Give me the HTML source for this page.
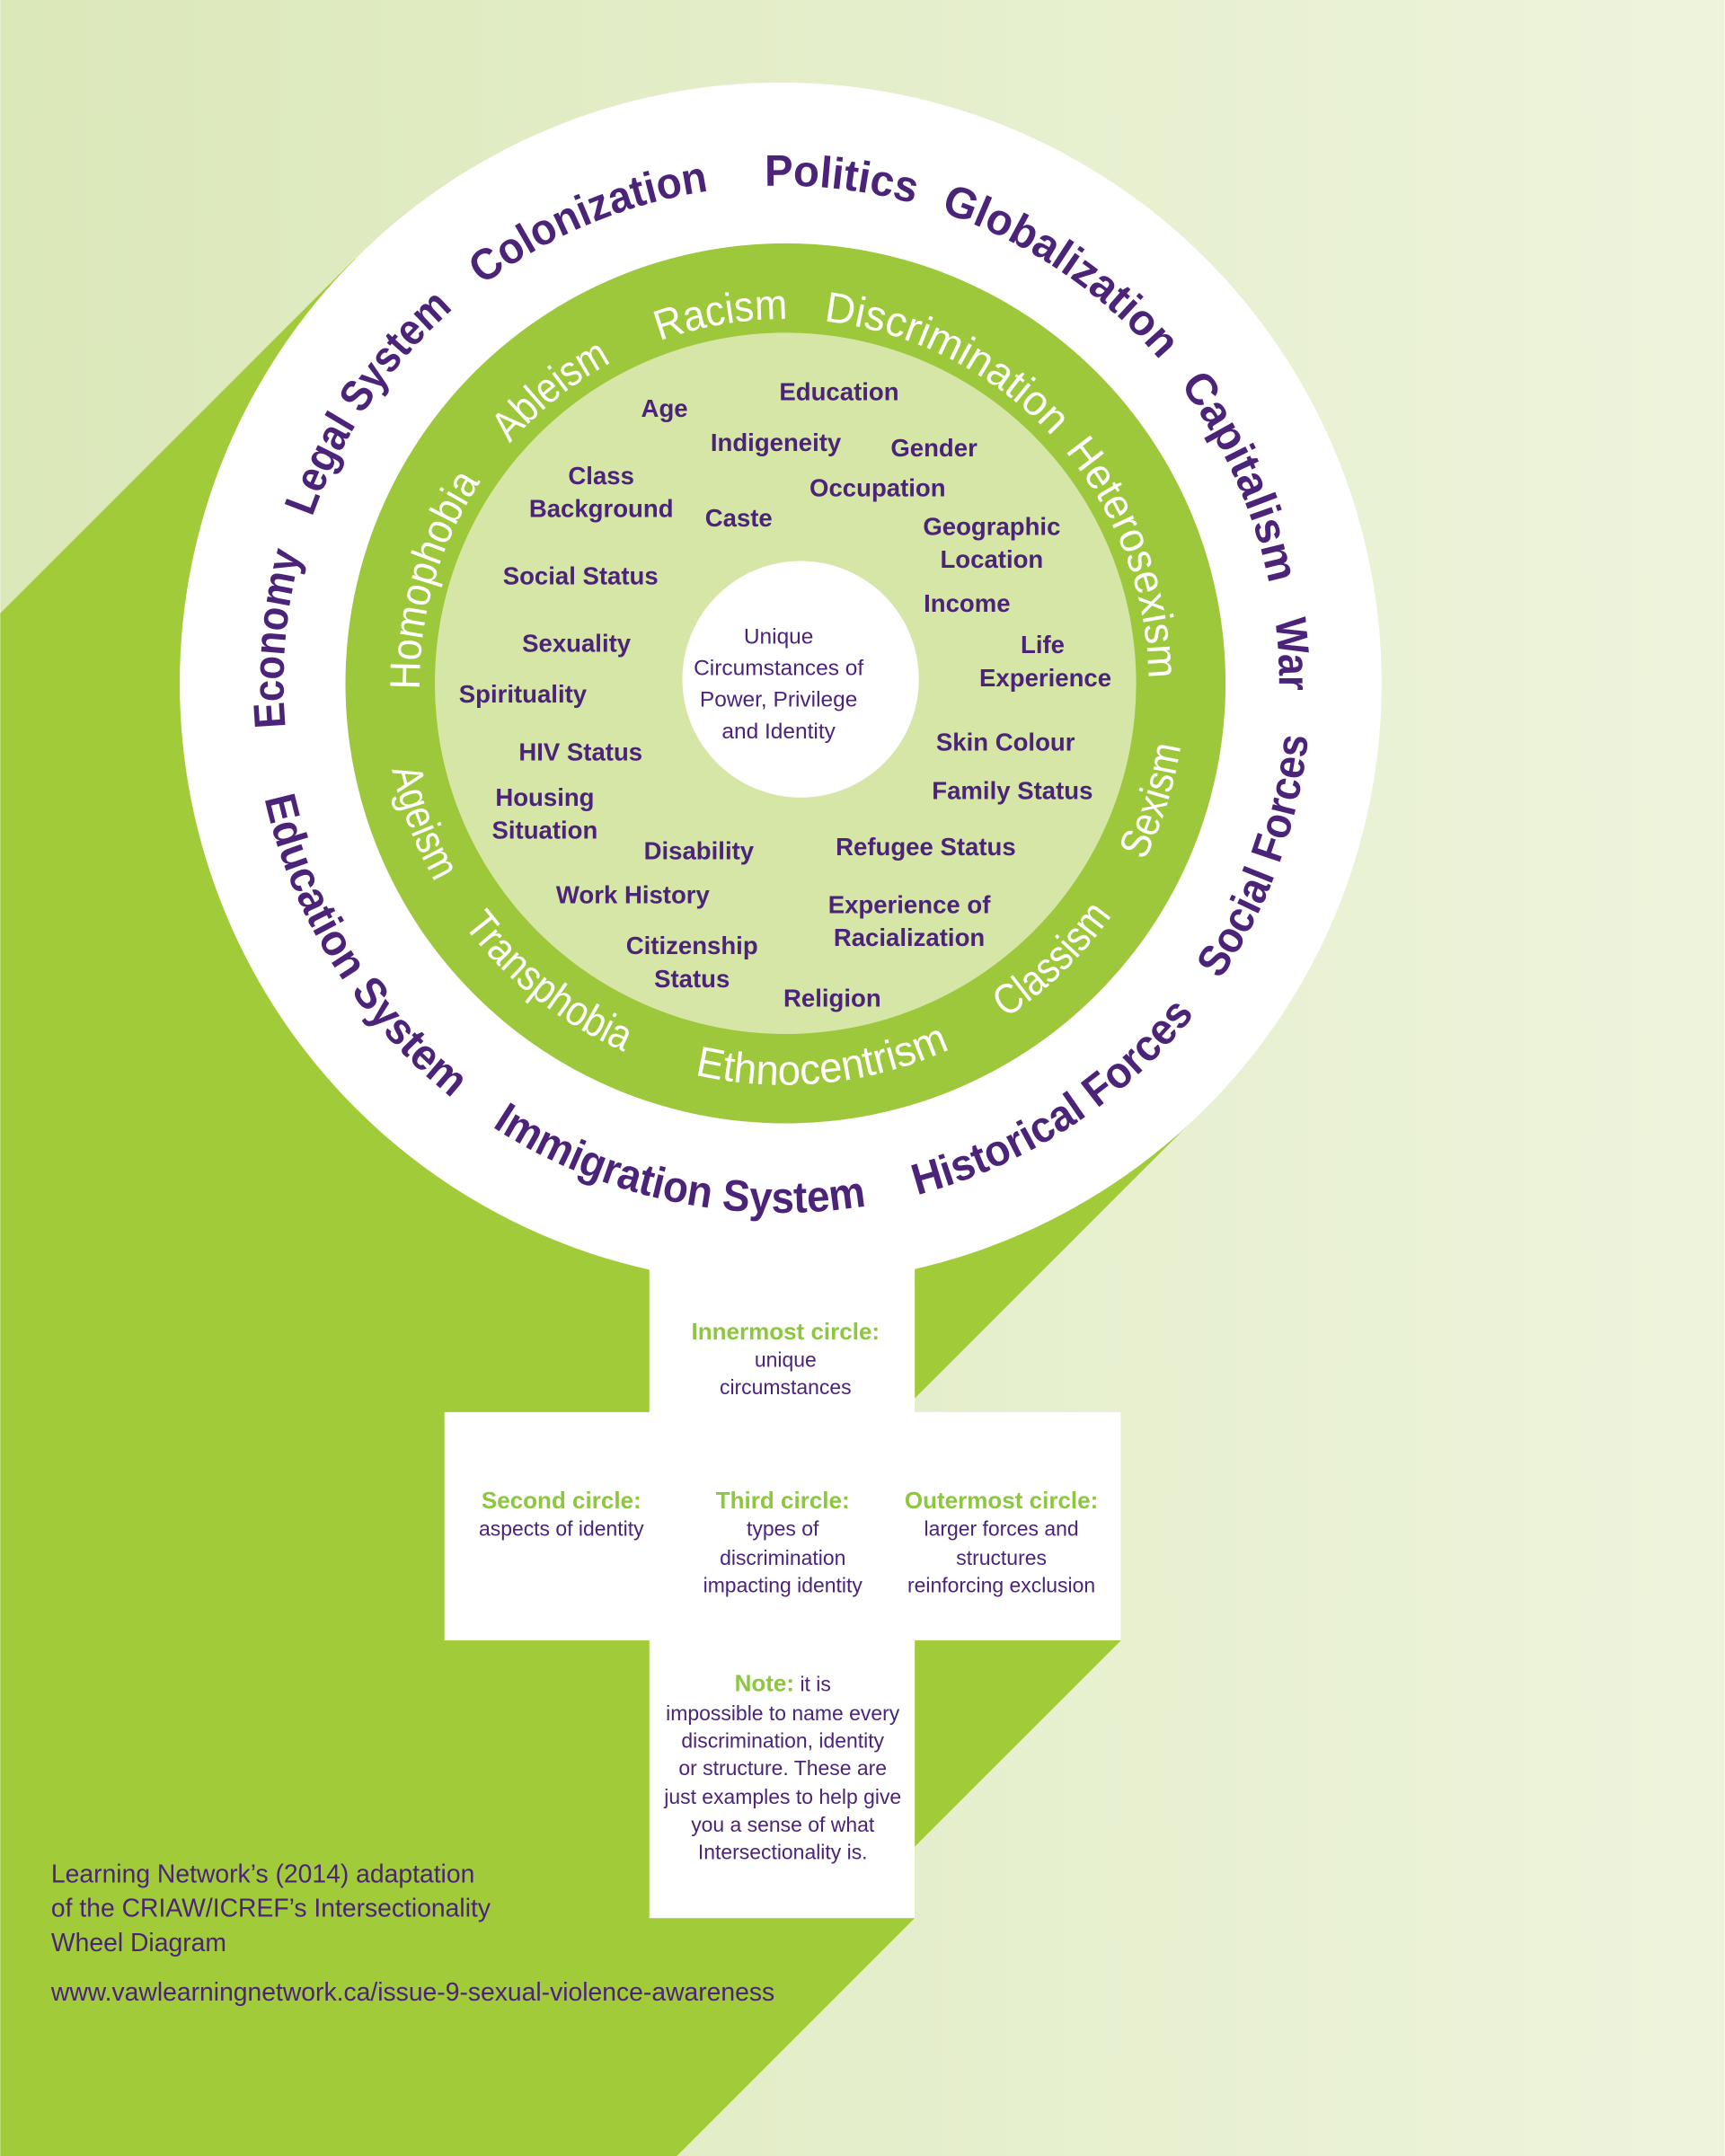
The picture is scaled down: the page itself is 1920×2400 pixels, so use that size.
<!DOCTYPE html>
<html><head><meta charset="utf-8"><style>
html,body{margin:0;padding:0;width:1920px;height:2400px;overflow:hidden}
svg{display:block}
.o{font-family:"Liberation Sans",sans-serif;font-weight:bold;font-size:32px;fill:#4b2479}
.m{font-family:"Liberation Sans",sans-serif;font-size:31px;fill:#fff}
.i{font-family:"Liberation Sans",sans-serif;font-weight:bold;font-size:18px;fill:#4b2479;text-anchor:middle}
.c{font-family:"Liberation Sans",sans-serif;font-size:16px;fill:#4b2479;text-anchor:middle}
.g{font-family:"Liberation Sans",sans-serif;font-weight:bold;font-size:17px;fill:#8dc63f}
.b{font-family:"Liberation Sans",sans-serif;font-size:18.5px;fill:#4b2479}
</style></head><body>
<svg width="1920" height="2400" viewBox="0 0 1254 1568" xmlns="http://www.w3.org/2000/svg">
<defs>
<linearGradient id="bg" x1="0" y1="0" x2="1" y2="0">
<stop offset="0" stop-color="#dbe8b9"/><stop offset="1" stop-color="#eef4dc"/></linearGradient>
<path id="ocw" d="M568,859 A362,362 0 1 1 568,135 A362,362 0 1 1 568,859"/>
<path id="occw" d="M568,112 A385,385 0 1 0 568,882 A385,385 0 1 0 568,112"/>
<path id="mcw" d="M570,762 A265,265 0 1 1 570,232 A265,265 0 1 1 570,762"/>
<path id="mccw" d="M570,205 A292,292 0 1 0 570,789 A292,292 0 1 0 570,205"/>
</defs>
<rect width="1254" height="1568" fill="url(#bg)"/>
<polygon fill="#a2cb3a" points="0,446 258,188 876,806 655,1027 815,1027 815,1193 665,1343 665,1395 492,1568 0,1568"/>
<circle cx="567.5" cy="497" r="437" fill="#fff"/>
<rect x="472" y="880" width="193" height="515" fill="#fff"/>
<rect x="323" y="1027" width="492" height="166" fill="#fff"/>
<circle cx="571" cy="497" r="320" fill="#9dc83b"/>
<circle cx="571" cy="497" r="255" fill="#d5e6a6"/>
<circle cx="582" cy="494" r="86" fill="#fff"/>
<!-- outer labels -->
<text class="o" text-anchor="middle"><textPath href="#ocw" startOffset="1179.6" textLength="110" lengthAdjust="spacingAndGlyphs">Politics</textPath></text>
<text class="o" text-anchor="middle"><textPath href="#ocw" startOffset="993.8" textLength="180" lengthAdjust="spacingAndGlyphs">Colonization</textPath></text>
<text class="o" text-anchor="middle"><textPath href="#ocw" startOffset="784.1" textLength="185" lengthAdjust="spacingAndGlyphs">Legal System</textPath></text>
<text class="o" text-anchor="middle"><textPath href="#ocw" startOffset="600.2" textLength="128" lengthAdjust="spacingAndGlyphs">Economy</textPath></text>
<text class="o" text-anchor="middle"><textPath href="#ocw" startOffset="1352" textLength="195" lengthAdjust="spacingAndGlyphs">Globalization</textPath></text>
<text class="o" text-anchor="middle"><textPath href="#ocw" startOffset="1552.3" textLength="160" lengthAdjust="spacingAndGlyphs">Capitalism</textPath></text>
<text class="o" text-anchor="middle"><textPath href="#ocw" startOffset="1684.4" textLength="52" lengthAdjust="spacingAndGlyphs">War</textPath></text>
<text class="o" text-anchor="middle"><textPath href="#occw" startOffset="1679.9" textLength="190" lengthAdjust="spacingAndGlyphs">Social Forces</textPath></text>
<text class="o" text-anchor="middle"><textPath href="#occw" startOffset="1431.3" textLength="245" lengthAdjust="spacingAndGlyphs">Historical Forces</textPath></text>
<text class="o" text-anchor="middle"><textPath href="#occw" startOffset="1128.9" textLength="285" lengthAdjust="spacingAndGlyphs">Immigration System</textPath></text>
<text class="o" text-anchor="middle"><textPath href="#occw" startOffset="819.8" textLength="262" lengthAdjust="spacingAndGlyphs">Education System</textPath></text>
<!-- middle labels -->
<text class="m" text-anchor="middle"><textPath href="#mcw" startOffset="787.2" textLength="95" lengthAdjust="spacingAndGlyphs">Racism</textPath></text>
<text class="m" text-anchor="middle"><textPath href="#mcw" startOffset="956" textLength="190" lengthAdjust="spacingAndGlyphs">Discrimination</textPath></text>
<text class="m" text-anchor="middle"><textPath href="#mcw" startOffset="654" textLength="95" lengthAdjust="spacingAndGlyphs">Ableism</textPath></text>
<text class="m" text-anchor="middle"><textPath href="#mcw" startOffset="491.6" textLength="160" lengthAdjust="spacingAndGlyphs">Homophobia</textPath></text>
<text class="m" text-anchor="middle"><textPath href="#mcw" startOffset="1154.9" textLength="180" lengthAdjust="spacingAndGlyphs">Heterosexism</textPath></text>
<text class="m" text-anchor="middle"><textPath href="#mccw" startOffset="1285.8" textLength="88" lengthAdjust="spacingAndGlyphs">Sexism</textPath></text>
<text class="m" text-anchor="middle"><textPath href="#mccw" startOffset="1141.6" textLength="108" lengthAdjust="spacingAndGlyphs">Classism</textPath></text>
<text class="m" text-anchor="middle"><textPath href="#mccw" startOffset="946.4" textLength="190" lengthAdjust="spacingAndGlyphs">Ethnocentrism</textPath></text>
<text class="m" text-anchor="middle"><textPath href="#mccw" startOffset="722.2" textLength="150" lengthAdjust="spacingAndGlyphs">Transphobia</textPath></text>
<text class="m" text-anchor="middle"><textPath href="#mccw" startOffset="565.7" textLength="88" lengthAdjust="spacingAndGlyphs">Ageism</textPath></text>
<!-- inner labels -->
<text class="i" x="483" y="303">Age</text>
<text class="i" x="610" y="291">Education</text>
<text class="i" x="564" y="328">Indigeneity</text>
<text class="i" x="679" y="332">Gender</text>
<text class="i" x="437" y="352">Class</text>
<text class="i" x="437" y="376">Background</text>
<text class="i" x="537" y="383">Caste</text>
<text class="i" x="638" y="361">Occupation</text>
<text class="i" x="721" y="389">Geographic</text>
<text class="i" x="721" y="413">Location</text>
<text class="i" x="422" y="425">Social Status</text>
<text class="i" x="703" y="445">Income</text>
<text class="i" x="419" y="474">Sexuality</text>
<text class="i" x="758" y="475">Life</text>
<text class="i" x="760" y="499">Experience</text>
<text class="i" x="380" y="511">Spirituality</text>
<text class="i" x="731" y="546">Skin Colour</text>
<text class="i" x="422" y="553">HIV Status</text>
<text class="i" x="396" y="586">Housing</text>
<text class="i" x="396" y="610">Situation</text>
<text class="i" x="736" y="581">Family Status</text>
<text class="i" x="508" y="625">Disability</text>
<text class="i" x="673" y="622">Refugee Status</text>
<text class="i" x="460" y="657">Work History</text>
<text class="i" x="661" y="664">Experience of</text>
<text class="i" x="661" y="688">Racialization</text>
<text class="i" x="503" y="694">Citizenship</text>
<text class="i" x="503" y="718">Status</text>
<text class="i" x="605" y="732">Religion</text>
<!-- center -->
<text class="c" x="566" y="468">Unique</text>
<text class="c" x="566" y="491">Circumstances of</text>
<text class="c" x="566" y="514">Power, Privilege</text>
<text class="c" x="566" y="537">and Identity</text>
<!-- cross -->
<text class="g" x="571" y="974" text-anchor="middle">Innermost circle:</text>
<text class="c" x="571" y="994" style="font-size:15px">unique</text>
<text class="c" x="571" y="1014" style="font-size:15px">circumstances</text>
<text class="g" x="408" y="1097" text-anchor="middle">Second circle:</text>
<text class="c" x="408" y="1117" style="font-size:15px">aspects of identity</text>
<text class="g" x="569" y="1097" text-anchor="middle">Third circle:</text>
<text class="c" x="569" y="1117" style="font-size:15px">types of</text>
<text class="c" x="569" y="1138" style="font-size:15px">discrimination</text>
<text class="c" x="569" y="1158" style="font-size:15px">impacting identity</text>
<text class="g" x="728" y="1097" text-anchor="middle">Outermost circle:</text>
<text class="c" x="728" y="1117" style="font-size:15px">larger forces and</text>
<text class="c" x="728" y="1138" style="font-size:15px">structures</text>
<text class="c" x="728" y="1158" style="font-size:15px">reinforcing exclusion</text>
<g style="font-size:15px">
<text class="c" x="569" y="1230" style="font-size:15px"><tspan class="g">Note:</tspan> it is</text>
<text class="c" x="569" y="1251" style="font-size:15px">impossible to name every</text>
<text class="c" x="569" y="1271" style="font-size:15px">discrimination, identity</text>
<text class="c" x="569" y="1291" style="font-size:15px">or structure. These are</text>
<text class="c" x="569" y="1312" style="font-size:15px">just examples to help give</text>
<text class="c" x="569" y="1332" style="font-size:15px">you a sense of what</text>
<text class="c" x="569" y="1352" style="font-size:15px">Intersectionality is.</text>
</g>
<!-- bottom left -->
<text class="b" x="37" y="1369">Learning Network’s (2014) adaptation</text>
<text class="b" x="37" y="1394">of the CRIAW/ICREF’s Intersectionality</text>
<text class="b" x="37" y="1419">Wheel Diagram</text>
<text class="b" x="37" y="1455">www.vawlearningnetwork.ca/issue-9-sexual-violence-awareness</text>
</svg>
</body></html>
